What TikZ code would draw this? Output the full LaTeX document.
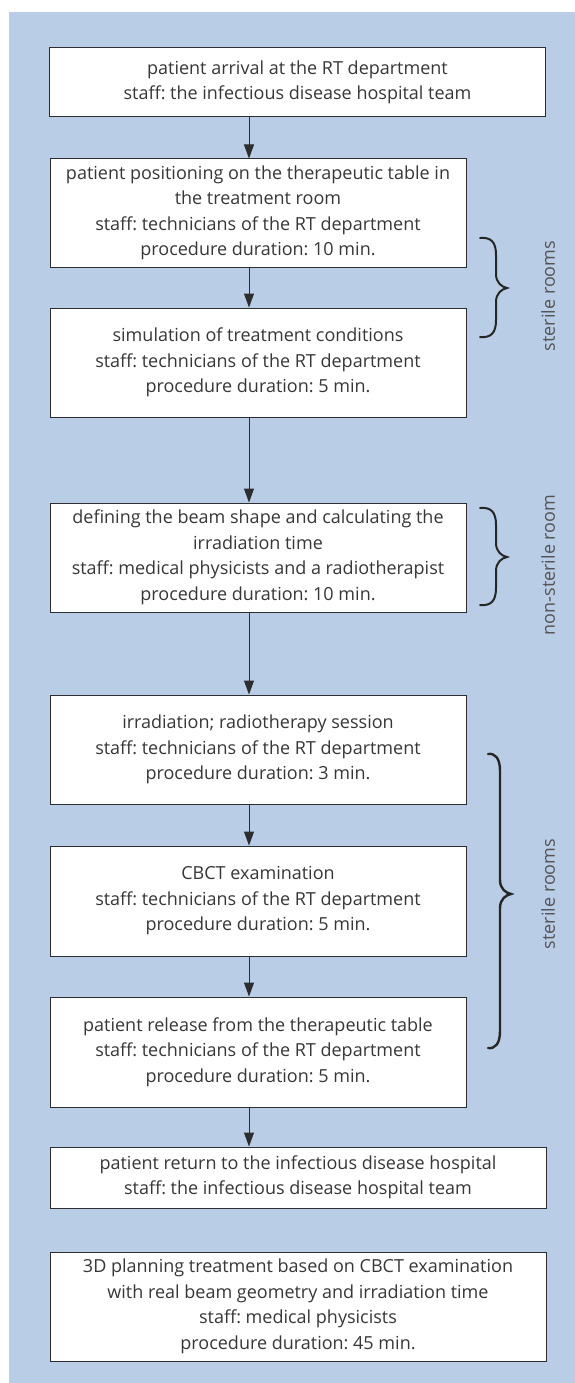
\documentclass[tikz,border=0pt]{standalone}
\usepackage{fontspec}
\setmainfont{Open Sans}
\usetikzlibrary{arrows.meta}
\definecolor{bgblue}{RGB}{185,205,230}
\definecolor{boxline}{RGB}{45,45,45}
\definecolor{txt}{RGB}{55,55,55}
\definecolor{lbl}{RGB}{85,85,85}
\newcommand\roombrace[7]{%
  \draw[#1] (#2,#5) .. controls (#3-5,#5-1) and (#3,#5+4) .. (#3,#5+17)
    -- (#3,#6-14) .. controls (#3,#6-5) and (#4-5,#6-1) .. (#4,#6)
    .. controls (#4-5,#6+1) and (#3,#6+5) .. (#3,#6+14)
    -- (#3,#7-17) .. controls (#3,#7-4) and (#3-5,#7+1) .. (#2,#7);}
\frenchspacing
\begin{document}
\begin{tikzpicture}[x=1pt,y=-1pt,
  box/.style={draw=boxline, line width=1pt, fill=white, text=txt, align=center,
    inner sep=0pt, font=\fontsize{18}{25.5}\selectfont},
  narrowbox/.style={box, minimum width=416pt},
  widebox/.style={box, minimum width=496pt},
  arr/.style={draw=boxline, line width=1pt, -{Triangle[length=14pt,width=10pt]}},
  bracestyle/.style={draw=black!85, line width=2pt, line cap=round},
  roomlabel/.style={text=lbl, rotate=90, inner sep=0pt, font=\fontsize{18}{22}\selectfont}]
\useasboundingbox (0,0) rectangle (575,1383);
\fill[white] (0,0) rectangle (575,1383);
\fill[bgblue] (9,12) rectangle (575,1383);

\node[widebox, minimum height=69pt] (a) at (297.5,82.5)
  {patient arrival at the RT department\\staff: the infectious disease hospital team};
\node[narrowbox, minimum height=108pt] (b) at (258,213)
  {patient positioning on the therapeutic table in\\the treatment room\\staff: technicians of the RT department\\procedure duration: 10 min.};
\node[narrowbox, minimum height=109pt] (c) at (258,362.5)
  {simulation of treatment conditions\\staff: technicians of the RT department\\procedure duration: 5 min.};
\node[narrowbox, minimum height=109pt] (d) at (258,557.5)
  {defining the beam shape and calculating the\\irradiation time\\staff: medical physicists and a radiotherapist\\procedure duration: 10 min.};
\node[narrowbox, minimum height=109pt] (e) at (258,749.5)
  {irradiation; radiotherapy session\\staff: technicians of the RT department\\procedure duration: 3 min.};
\node[narrowbox, minimum height=110pt] (f) at (258,901)
  {CBCT examination\\staff: technicians of the RT department\\procedure duration: 5 min.};
\node[narrowbox, minimum height=110pt] (g) at (258,1052)
  {patient release from the therapeutic table\\staff: technicians of the RT department\\procedure duration: 5 min.};
\node[widebox, minimum height=61pt] (h) at (298,1177.5)
  {patient return to the infectious disease hospital\\staff: the infectious disease hospital team};
\node[widebox, minimum height=109pt] (i) at (298,1306.5)
  {3D planning treatment based on CBCT examination\\with real beam geometry and irradiation time\\staff: medical physicists\\procedure duration: 45 min.};

\coordinate (ax) at (249,0);
\draw[arr] (a.south -| ax) -- (b.north -| ax);
\draw[arr] (b.south -| ax) -- (c.north -| ax);
\draw[arr] (c.south -| ax) -- (d.north -| ax);
\draw[arr] (d.south -| ax) -- (e.north -| ax);
\draw[arr] (e.south -| ax) -- (f.north -| ax);
\draw[arr] (f.south -| ax) -- (g.north -| ax);
\draw[arr] (g.south -| ax) -- (h.north -| ax);

\roombrace{bracestyle}{480}{496}{507}{238}{288}{337}
\roombrace{bracestyle}{480}{496}{507}{508}{557}{605}
\roombrace{bracestyle, line width=2.4pt}{488}{500}{511}{754}{894}{1048}

\node[roomlabel] (l1) at (548,296) {sterile rooms};
\node[roomlabel] (l2) at (548,565) {non-sterile room};
\node[roomlabel] (l3) at (548,894) {sterile rooms};
\end{tikzpicture}
\end{document}
